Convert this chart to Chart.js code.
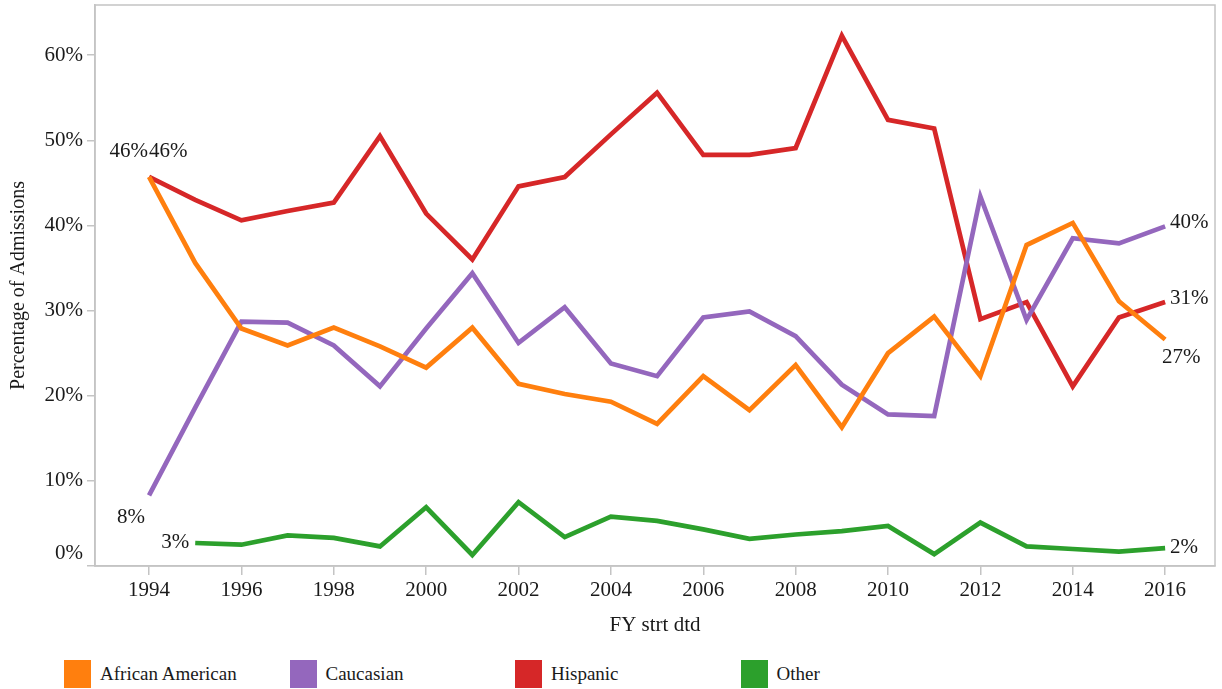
<!DOCTYPE html>
<html>
<head>
<meta charset="utf-8">
<script src="https://cdn.jsdelivr.net/npm/chart.js@4"></script>
<style>
  body { margin: 0; background: #fff; }
  #wrap { position: absolute; left: 0; top: 0; width: 1222px; height: 650px; }
  #legend { position: absolute; left: 64px; top: 660px; font-family: "Liberation Serif", serif; font-size: 19px; color: #1a1a1a; }
  .item { position: absolute; top: 0; width: 225px; white-space: nowrap; }
  .item span.sw { position: absolute; left: 0; top: 0; width: 27px; height: 28px; }
  .item span.tx { position: absolute; left: 36px; top: 3px; }
</style>
</head>
<body>
<div id="wrap"><canvas id="myChart"></canvas></div>
<div id="legend"></div>
<script>
var years = [1994, 1995, 1996, 1997, 1998, 1999, 2000, 2001, 2002, 2003, 2004, 2005,
  2006, 2007, 2008, 2009, 2010, 2011, 2012, 2013, 2014, 2015, 2016];
var yearTicks = [1994, 1996, 1998, 2000, 2002, 2004, 2006, 2008, 2010, 2012, 2014, 2016];
var pctTicks = [0, 10, 20, 30, 40, 50, 60];

var seriesNames = ["African American", "Caucasian", "Hispanic", "Other"];
var colors = ["#ff7f0e", "#9467bd", "#d62728", "#2ca02c"];

var africanAmerican = [45.7, 35.6, 27.9, 25.9, 28.0, 25.8, 23.3, 28.0, 21.4, 20.2, 19.3, 16.7,
  22.3, 18.3, 23.6, 16.3, 25.0, 29.3, 22.3, 37.7, 40.3, 31.1, 26.6];
var caucasian = [8.3, 18.6, 28.7, 28.6, 25.9, 21.1, 27.9, 34.4, 26.2, 30.4, 23.8, 22.3,
  29.2, 29.9, 27.0, 21.3, 17.8, 17.6, 43.4, 28.9, 38.5, 37.9, 39.9];
var hispanic = [45.7, 43.0, 40.6, 41.7, 42.7, 50.5, 41.4, 36.0, 44.6, 45.7, 50.7, 55.6,
  48.3, 48.3, 49.1, 62.3, 52.4, 51.4, 29.0, 31.0, 21.1, 29.2, 31.0];
var other = [null, 2.7, 2.5, 3.6, 3.3, 2.3, 6.9, 1.3, 7.5, 3.4, 5.8, 5.3,
  4.3, 3.2, 3.7, 4.1, 4.7, 1.4, 5.1, 2.3, 2.0, 1.7, 2.1];

var allSeries = [africanAmerican, caucasian, hispanic, other];

// which points get a value label: [dataset, point index, align, dx, dy]
var pointLabels = [
  [0, 0, "right", -1, -25],
  [2, 0, "left", 0, -25],
  [1, 0, "right", -4, 22],
  [3, 1, "right", -6, -1],
  [1, 22, "left", 5, -4],
  [2, 22, "left", 5, -4],
  [0, 22, "left", -3, 18],
  [3, 22, "left", 5, -1]
];

var FONT = "'Liberation Serif', serif";
var gray = "#c4c4c4";

const valueLabels = {
  id: "valueLabels",
  afterDatasetsDraw(chart) {
    const ctx = chart.ctx;
    const xs = chart.scales.x, ys = chart.scales.y;
    ctx.save();
    ctx.font = "21px " + FONT;
    ctx.fillStyle = "#1a1a1a";
    ctx.textBaseline = "middle";
    pointLabels.forEach(function (p) {
      var v = allSeries[p[0]][p[1]];
      var px = xs.getPixelForValue(years[p[1]]);
      var py = ys.getPixelForValue(v);
      ctx.textAlign = p[2];
      ctx.fillText(Math.round(v) + "%", px + p[3], py + p[4]);
    });
    ctx.restore();
  }
};

const frame = {
  id: "frame",
  beforeDatasetsDraw(chart) {
    const a = chart.chartArea, ctx = chart.ctx;
    ctx.save();
    ctx.strokeStyle = gray;
    ctx.lineWidth = 1.5;
    ctx.strokeRect(a.left, a.top, a.right - a.left, a.bottom - a.top);
    ctx.restore();
  }
};

const ctx = document.getElementById("myChart");
const myChart = new Chart(ctx, {
  type: "line",
  data: {
    datasets: seriesNames.map(function (name, i) {
      return {
        label: name,
        data: years.map(function (yr, j) { return { x: yr, y: allSeries[i][j] }; }),
        borderColor: colors[i],
        backgroundColor: colors[i],
        borderWidth: 4.7,
        pointRadius: 0,
        tension: 0
      };
    })
  },
  options: {
    responsive: true,
    maintainAspectRatio: false,
    animation: false,
    layout: { padding: { top: 5, right: 7, left: 0, bottom: 0 } },
    plugins: {
      legend: { display: false },
      tooltip: { enabled: false }
    },
    scales: {
      x: {
        type: "linear",
        min: 1992.83,
        max: 2017.08,
        afterBuildTicks: function (axis) {
          axis.ticks = yearTicks.map(function (v) { return { value: v }; });
        },
        afterFit: function (scale) {
          scale.height = 84;
          scale.paddingLeft = 0;
          scale.paddingRight = 0;
        },
        grid: { drawOnChartArea: false, color: gray, tickLength: 9, lineWidth: 1.5 },
        border: { color: gray, width: 1.5 },
        ticks: {
          color: "#1a1a1a",
          font: { family: FONT, size: 21 },
          padding: 3,
          maxRotation: 0,
          callback: function (v) { return String(v); }
        },
        title: {
          display: true,
          text: "FY strt dtd",
          color: "#1a1a1a",
          font: { family: FONT, size: 21 },
          padding: { top: 0, bottom: 12 }
        }
      },
      y: {
        min: 0,
        max: 65.9,
        afterBuildTicks: function (axis) {
          axis.ticks = pctTicks.map(function (v) { return { value: v }; });
        },
        afterFit: function (scale) {
          scale.width = 95;
          scale.paddingTop = 0;
          scale.paddingBottom = 0;
        },
        grid: { drawOnChartArea: false, color: gray, tickLength: 8, lineWidth: 1.5 },
        border: { color: gray, width: 1.5 },
        ticks: {
          color: "#1a1a1a",
          font: { family: FONT, size: 21 },
          padding: 4,
          // bottom label sits a little above its tick, like the original
          callback: function (v) { return v === 0 ? ["0%", ""] : v + "%"; }
        },
        title: {
          display: true,
          text: "Percentage of Admissions",
          color: "#1a1a1a",
          font: { family: FONT, size: 20 },
          padding: { top: 7, bottom: 0 }
        }
      }
    }
  },
  plugins: [frame, valueLabels]
});

// legend in fixed-width columns like the original
var legend = document.getElementById("legend");
seriesNames.forEach(function (name, i) {
  var item = document.createElement("div");
  item.className = "item";
  item.style.left = (i * 225.5) + "px";
  item.innerHTML = '<span class="sw" style="background:' + colors[i] + '"></span><span class="tx">' + name + '</span>';
  legend.appendChild(item);
});
</script>
</body>
</html>
